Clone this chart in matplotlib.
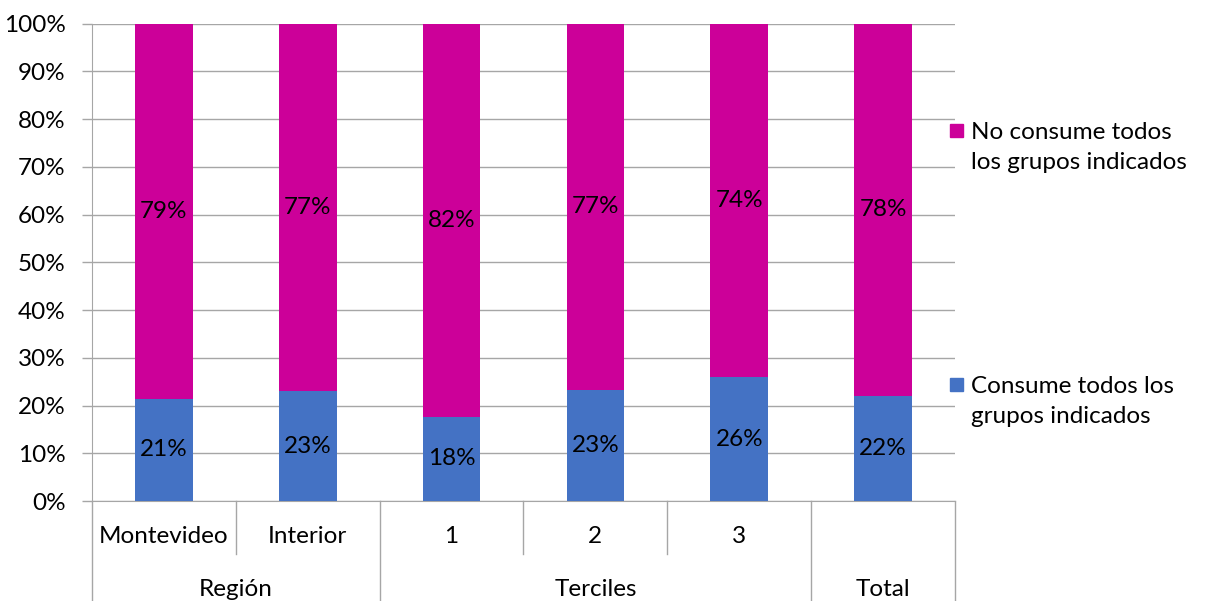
import matplotlib.pyplot as plt
from matplotlib.patches import Rectangle
from matplotlib.lines import Line2D

plt.rcParams['font.family'] = ['Lato', 'DejaVu Sans']

categories = ["Montevideo", "Interior", "1", "2", "3", ""]
groups = ["Región", "Terciles", "Total"]
group_spans = [(0, 2), (2, 5), (5, 6)]
consume = [21.4, 23.0, 17.6, 23.3, 25.9, 22.1]
no_consume = [78.6, 77.0, 82.4, 76.7, 74.1, 77.9]
series_names = ["No consume todos\nlos grupos indicados",
                "Consume todos los\ngrupos indicados"]
yticks = [0, 10, 20, 30, 40, 50, 60, 70, 80, 90, 100]

blue = "#4472C4"
magenta = "#CC0099"
grid_color = "#A6A6A6"
fs = 17.5

fig = plt.figure(figsize=(12.09, 6.01), dpi=100)
ax = fig.add_axes([92 / 1209, 100 / 601, (955 - 92) / 1209, (501 - 23.7) / 601])

x = list(range(len(categories)))
ax.bar(x, consume, width=0.4, color=blue, zorder=3)
ax.bar(x, no_consume, width=0.4, bottom=consume, color=magenta, zorder=3)

for xi, c, n in zip(x, consume, no_consume):
    ax.text(xi, c / 2, f"{round(c):d}%", ha="center", va="center", fontsize=fs, zorder=4)
    ax.text(xi, c + n / 2, f"{round(n):d}%", ha="center", va="center", fontsize=fs, zorder=4)

ax.set_xlim(-0.5, len(categories) - 0.5)
ax.set_ylim(0, 100)
ax.set_yticks(yticks)
ax.set_yticklabels([f"{t}%" for t in yticks], fontsize=fs)
ax.tick_params(axis="y", length=7, color=grid_color, width=1, pad=12)
ax.set_xticks([])
ax.yaxis.grid(True, color=grid_color, linewidth=1)
ax.set_axisbelow(True)
for s in ["top", "right"]:
    ax.spines[s].set_visible(False)
ax.spines["left"].set_color(grid_color)
ax.spines["bottom"].set_color(grid_color)

# Two-level category axis below the plot
trans = ax.get_xaxis_transform()
short_drop = -0.11
long_drop = -0.22
for i, lab in enumerate(categories):
    ax.text(i, -0.075, lab, transform=trans, ha="center", va="center", fontsize=fs)
for g, (a, b) in zip(groups, group_spans):
    ax.text((a + b - 1) / 2, -0.185, g, transform=trans, ha="center", va="center", fontsize=fs)

group_edges = sorted({a for a, b in group_spans} | {b for a, b in group_spans})
for i in range(len(categories) + 1):
    edge = i - 0.5
    depth = long_drop if i in group_edges else short_drop
    ax.add_line(Line2D([edge, edge], [0, depth], transform=trans, color=grid_color,
                       linewidth=1, clip_on=False))

# Legend entries
entries = [(magenta, series_names[0], 130), (blue, series_names[1], 384)]
for color, name, ypix in entries:
    fig.patches.append(Rectangle((950 / 1209, 1 - (ypix + 7) / 601), 13 / 1209, 13 / 601,
                                 transform=fig.transFigure, color=color))
    fig.text(971 / 1209, 1 - (ypix + 17.5) / 601, name, ha="left", va="center",
             fontsize=fs, linespacing=1.5)

fig.savefig("out.png", dpi=100)
